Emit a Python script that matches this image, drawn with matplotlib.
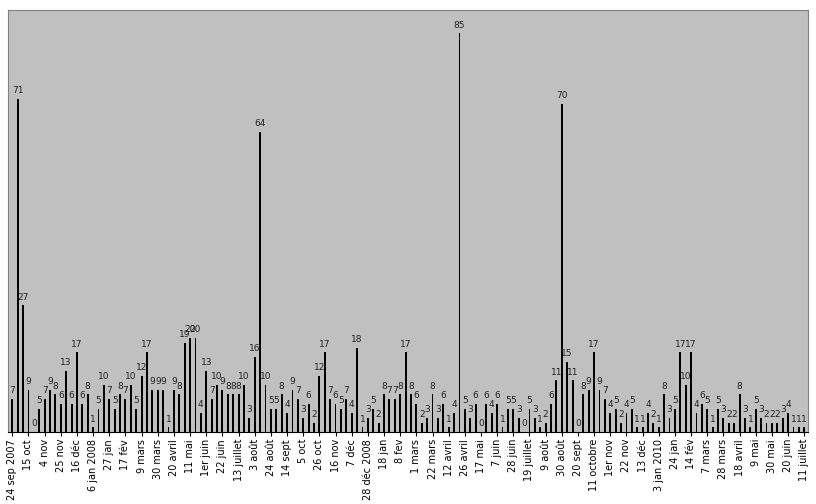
import matplotlib
matplotlib.use("Agg")
import matplotlib.pyplot as plt
import numpy as np

values = [7,71,27,9,0,5,7,9,8,6,
          13,6,17,6,8,1,5,10,7,5,
          8,7,10,5,12,17,9,9,9,1,
          9,8,19,20,20,4,13,7,10,9,
          8,8,8,10,3,16,64,10,5,5,
          8,4,9,7,3,6,2,12,17,7,
          6,5,7,4,18,1,3,5,2,8,
          7,7,8,17,8,6,2,3,8,3,
          6,1,4,85,5,3,6,0,6,4,
          6,1,5,5,3,0,5,3,1,2,
          6,11,70,15,11,0,8,9,17,9,
          7,4,5,2,4,5,1,1,4,2,
          1,8,3,5,17,10,17,4,6,5,
          1,5,3,2,2,8,3,1,5,3,
          2,2,2,3,4,1,1,1]
tick_labels = ["24 sep 2007","15 oct","4 nov","25 nov","16 déc","6 jan 2008","27 jan","17 fév",
               "9 mars","30 mars","20 avril","11 mai","1er juin","22 juin","13 juillet","3 août",
               "24 août","14 sept","5 oct","26 oct","16 nov","7 déc","28 déc 2008","18 jan","8 fev",
               "1 mars","22 mars","12 avril","26 avril","17 mai","7 juin","28 juin","19 juillet",
               "9 août","30 août","20 sept","11 octobre","1er nov","22 nov","13 déc","3 jan 2010",
               "24 jan","14 fév","7 mars","28 mars","18 avril","9 mai","30 mai","20 juin","11 juillet"]

fig = plt.figure(figsize=(8.16, 5.04), dpi=100)
ax = fig.add_axes([8/816, 72/504, 800/816, 422/504])
ax.set_facecolor("#C0C0C0")
x = np.arange(len(values))
ax.bar(x, values, width=0.35, color="black")
for xi, v in zip(x, values):
    ax.text(xi, v + 0.8, str(v), ha="center", va="bottom", fontsize=6.5, color="#222222")
ax.set_xlim(-0.8, len(values) - 0.3)
ax.set_ylim(0, 90)
ax.set_yticks([])
ax.set_xticks(x[::3])
ax.set_xticklabels(tick_labels, rotation=90, fontsize=7)
ax.tick_params(axis="x", length=3, pad=2)
for s in ax.spines.values():
    s.set_color("#808080")
ax.spines["bottom"].set_color("black")
fig.savefig("out.png", dpi=100)
